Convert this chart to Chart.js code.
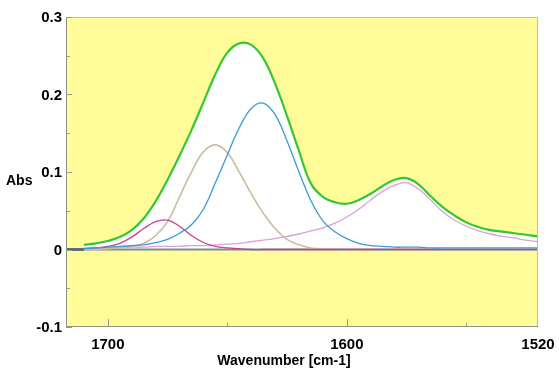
<!DOCTYPE html>
<html>
<head>
<meta charset="utf-8">
<script src="https://cdn.jsdelivr.net/npm/chart.js@4/dist/chart.umd.min.js"></script>
<style>
  html, body { margin: 0; padding: 0; background: #fff; }
  #wrap { width: 559px; height: 375px; }
</style>
</head>
<body>
<div id="wrap"><canvas id="chart" width="559" height="375"></canvas></div>
<script>
// Data
const wavenumbers = [1710, 1705, 1700, 1695, 1690, 1685, 1680, 1675, 1670, 1665, 1660, 1655, 1650, 1645, 1640, 1635, 1630, 1625, 1620, 1615, 1610, 1605, 1600, 1595, 1590, 1585, 1580, 1575, 1570, 1565, 1560, 1555, 1550, 1545, 1540, 1535, 1530, 1525, 1520];

const totalAbs = [0.006, 0.008, 0.011, 0.016, 0.025, 0.040, 0.062, 0.090, 0.121, 0.154, 0.190, 0.226, 0.254, 0.266, 0.264, 0.247, 0.214, 0.172, 0.127, 0.085, 0.068, 0.061, 0.059, 0.064, 0.072, 0.082, 0.090, 0.092, 0.084, 0.069, 0.055, 0.044, 0.035, 0.029, 0.025, 0.023, 0.021, 0.019, 0.017];
const peak1635 = [0.001, 0.002, 0.003, 0.004, 0.005, 0.006, 0.009, 0.013, 0.021, 0.032, 0.052, 0.086, 0.122, 0.157, 0.182, 0.189, 0.174, 0.140, 0.100, 0.063, 0.037, 0.023, 0.014, 0.008, 0.005, 0.004, 0.003, 0.003, 0.003, 0.002, 0.002, 0.002, 0.002, 0.002, 0.002, 0.002, 0.002, 0.002, 0.002];
const peak1655 = [0.000, 0.000, 0.001, 0.002, 0.004, 0.008, 0.018, 0.036, 0.068, 0.100, 0.126, 0.135, 0.125, 0.100, 0.072, 0.047, 0.027, 0.013, 0.006, 0.002, 0.001, 0.000, 0.000, 0.000, 0.000, 0.000, 0.000, 0.000, 0.000, 0.000, 0.000, 0.000, 0.000, 0.000, 0.000, 0.000, 0.000, 0.000, 0.000];
const peak1677 = [0.001, 0.002, 0.004, 0.008, 0.016, 0.027, 0.036, 0.038, 0.030, 0.018, 0.009, 0.004, 0.002, 0.001, 0.000, 0.000, 0.000, 0.000, 0.000, 0.000, 0.000, 0.000, 0.000, 0.000, 0.000, 0.000, 0.000, 0.000, 0.000, 0.000, 0.000, 0.000, 0.000, 0.000, 0.000, 0.000, 0.000, 0.000, 0.000];
const peak1578 = [0.002, 0.002, 0.003, 0.003, 0.003, 0.003, 0.004, 0.004, 0.004, 0.005, 0.005, 0.006, 0.007, 0.008, 0.010, 0.012, 0.014, 0.017, 0.020, 0.024, 0.028, 0.034, 0.042, 0.052, 0.064, 0.075, 0.083, 0.086, 0.078, 0.064, 0.049, 0.038, 0.030, 0.024, 0.020, 0.017, 0.015, 0.012, 0.010];

const baselineWn = [1717.5, 1710, 1520];
const baselineAbs = [0, 0, 0];
const stubWn = [1717.5, 1710];
const stubAbs = [0, 0];

const yTicks = [-0.1, 0, 0.1, 0.2, 0.3];
const yTickLabels = ['-0.1', '0', '0.1', '0.2', '0.3'];
const yMinorTicks = [-0.05, 0.05, 0.15, 0.25];
const xTicks = [1700, 1600];
const xMinorTicks = [1650, 1550];
const xTickLabels = ['1700', '1600', '1520'];
const xLabelPos = [1700, 1600, 1520];

function pts(xs, ys) {
    return xs.map((x, i) => ({ x: x, y: ys[i] }));
}

// Plot area background + frame, ticks and labels
const frame = {
    id: 'frame',
    beforeDraw(chart) {
        const { ctx, chartArea: a } = chart;
        ctx.save();
        ctx.fillStyle = '#ffffff';
        ctx.fillRect(0, 0, chart.width, chart.height);
        ctx.fillStyle = '#fffc99';
        ctx.fillRect(a.left, a.top, a.right - a.left, a.bottom - a.top);
        ctx.restore();
    },
    afterDraw(chart) {
        const { ctx, chartArea: a } = chart;
        const xs = chart.scales.x, ys = chart.scales.y;
        ctx.save();
        ctx.lineWidth = 1;
        // top / right
        ctx.strokeStyle = '#c2bdae';
        ctx.beginPath();
        ctx.moveTo(a.left, a.top + 0.5);
        ctx.lineTo(a.right - 0.5, a.top + 0.5);
        ctx.lineTo(a.right - 0.5, a.bottom);
        ctx.stroke();
        // left / bottom
        ctx.strokeStyle = '#8f8f8a';
        ctx.beginPath();
        ctx.moveTo(a.left + 0.5, a.top);
        ctx.lineTo(a.left + 0.5, a.bottom - 0.5);
        ctx.lineTo(a.right, a.bottom - 0.5);
        ctx.stroke();

        // ticks (inside)
        ctx.strokeStyle = '#9a9a94';
        ctx.beginPath();
        yTicks.forEach(v => {
            const y = Math.round(ys.getPixelForValue(v)) + 0.5;
            ctx.moveTo(a.left, y); ctx.lineTo(a.left + 6, y);
        });
        yMinorTicks.forEach(v => {
            const y = Math.round(ys.getPixelForValue(v)) + 0.5;
            ctx.moveTo(a.left, y); ctx.lineTo(a.left + 4, y);
        });
        xTicks.forEach(v => {
            const x = Math.round(xs.getPixelForValue(v)) + 0.5;
            ctx.moveTo(x, a.bottom); ctx.lineTo(x, a.bottom - 8);
        });
        xMinorTicks.forEach(v => {
            const x = Math.round(xs.getPixelForValue(v)) + 0.5;
            ctx.moveTo(x, a.bottom); ctx.lineTo(x, a.bottom - 4);
        });
        ctx.stroke();

        // tick labels
        ctx.fillStyle = '#000';
        ctx.font = 'bold 15px "Liberation Sans", Arial, sans-serif';
        ctx.textAlign = 'right';
        ctx.textBaseline = 'middle';
        yTicks.forEach((v, i) => {
            ctx.fillText(yTickLabels[i], a.left - 4, ys.getPixelForValue(v) + 1);
        });
        ctx.textAlign = 'center';
        xLabelPos.forEach((v, i) => {
            ctx.fillText(xTickLabels[i], xs.getPixelForValue(v), a.bottom + 18);
        });

        // axis titles
        ctx.font = 'bold 14px "Liberation Sans", Arial, sans-serif';
        ctx.textAlign = 'left';
        ctx.fillText('Abs', 6, 181);
        ctx.textAlign = 'center';
        ctx.fillText('Wavenumber [cm-1]', 284, 361);
        ctx.restore();
    }
};

const lineOpts = { showLine: true, pointRadius: 0, fill: false, tension: 0.4 };

new Chart(document.getElementById('chart'), {
    type: 'scatter',
    data: {
        datasets: [
            { ...lineOpts, data: pts(wavenumbers, peak1635), borderColor: '#3a9ad8', borderWidth: 1.3 },
            { ...lineOpts, data: pts(wavenumbers, peak1677), borderColor: '#c8408f', borderWidth: 1.3 },
            { ...lineOpts, data: pts(wavenumbers, peak1578), borderColor: '#d8a2d8', borderWidth: 1.3 },
            { ...lineOpts, data: pts(wavenumbers, peak1655), borderColor: '#cbbd9f', borderWidth: 1.6 },
            { ...lineOpts, data: pts(stubWn, stubAbs), borderColor: '#5f6e76', borderWidth: 3, tension: 0 },
            { ...lineOpts, data: pts(baselineWn, baselineAbs), borderColor: '#7d8d97', borderWidth: 2, tension: 0 },
            { ...lineOpts, data: pts(wavenumbers, totalAbs), borderColor: '#34c734', borderWidth: 2.2,
              fill: 'origin', backgroundColor: '#ffffff' }
        ]
    },
    options: {
        responsive: false,
        animation: false,
        layout: { padding: { left: 66, right: 21, top: 17, bottom: 48 } },
        plugins: { legend: { display: false }, tooltip: { enabled: false } },
        scales: {
            x: { type: 'linear', reverse: true, min: 1520, max: 1717.5, display: false },
            y: { type: 'linear', min: -0.1, max: 0.3, display: false }
        }
    },
    plugins: [frame]
});
</script>
</body>
</html>
